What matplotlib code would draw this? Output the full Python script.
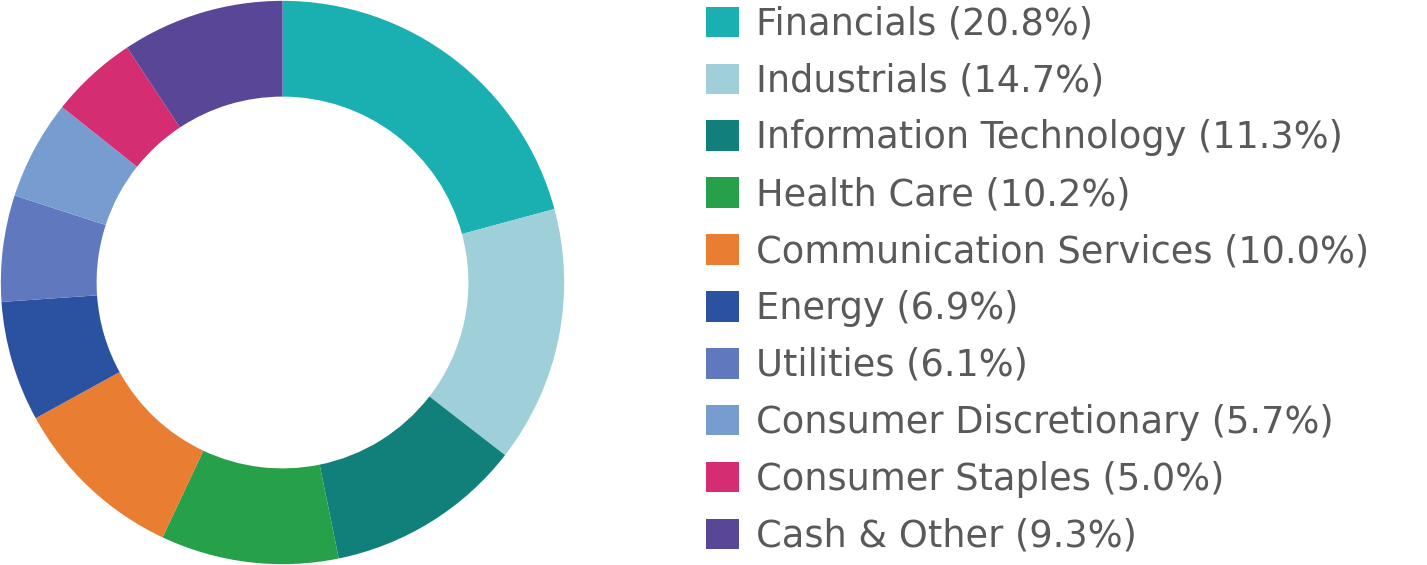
import matplotlib.pyplot as plt
from matplotlib.patches import Patch

sectors = ["Financials", "Industrials", "Information Technology", "Health Care",
           "Communication Services", "Energy", "Utilities",
           "Consumer Discretionary", "Consumer Staples", "Cash & Other"]
weights = [20.8, 14.7, 11.3, 10.2, 10.0, 6.9, 6.1, 5.7, 5.0, 9.3]
colors = ["#1aafb0", "#9fd0d9", "#12807a", "#27a04a", "#e97d32",
          "#2b52a0", "#6078be", "#779dd0", "#d42d72", "#5a4696"]

plt.rcParams["font.family"] = ["DejaVu Sans"]

fig = plt.figure(figsize=(14.27, 5.65), dpi=100)

# donut on the left
ax = fig.add_axes([0, 0, 565 / 1427, 1])
ax.pie(weights, colors=colors, startangle=90, counterclock=False,
       radius=1.0, wedgeprops=dict(width=0.34, linewidth=0))
ax.set_xlim(-1.003, 1.003)
ax.set_ylim(-1.003, 1.003)
ax.set_aspect("equal")
ax.axis("off")

# legend on the right
handles = [Patch(facecolor=c, edgecolor="none") for c in colors]
labels = [f"{s} ({w:.1f}%)" for s, w in zip(sectors, weights)]
fig.legend(handles, labels, loc="upper left", bbox_to_anchor=(702 / 1427, 1 - 2 / 565),
           frameon=False, fontsize=26.5, labelcolor="#595959",
           handlelength=0.9, handleheight=0.9, handletextpad=0.48,
           labelspacing=0.54, borderaxespad=0, borderpad=0.1)

fig.savefig("out.png", dpi=100, facecolor="white")
